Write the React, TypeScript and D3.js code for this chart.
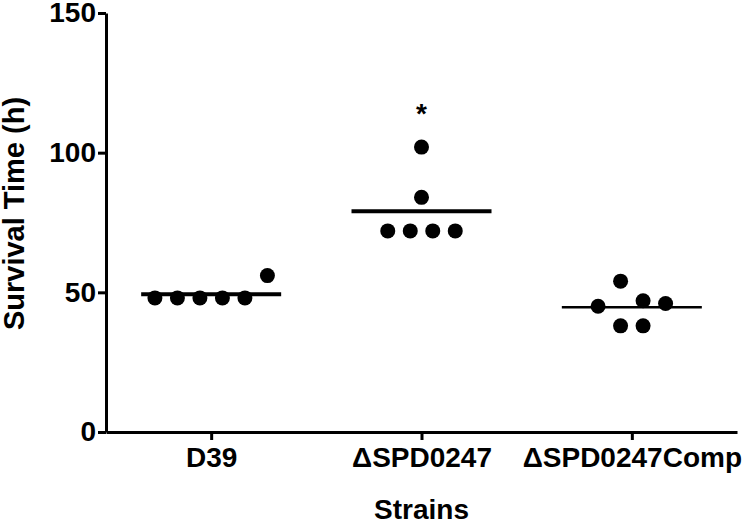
import React from "react";
import * as d3 from "d3";

// strains on the x axis
const strains = ["D39", "ΔSPD0247", "ΔSPD0247Comp"];

// survival times (h) per strain, with the column slot each dot sits in
const d39Values = [48, 48, 48, 48, 48, 56];
const d39Slots = [-2.5, -1.5, -0.5, 0.5, 1.5, 2.5];
const mutValues = [72, 72, 72, 72, 84, 102];
const mutSlots = [-1.5, -0.5, 0.5, 1.5, 0, 0];
const compValues = [45, 54, 47, 46, 38, 38];
const compSlots = [-1.5, -0.5, 0.5, 1.5, -0.5, 0.5];

const yTicks = [0, 50, 100, 150];
const significant = [false, true, false];

const App = () => {
  const svgRef = React.useRef(null);
  const width = 750;
  const height = 525;
  const margin = { top: 13, right: 13, bottom: 93, left: 106 };

  React.useEffect(() => {
    drawChart();
  }, []);

  const drawChart = () => {
    const font = "'Liberation Sans', Arial, sans-serif";
    const groups = [
      { name: strains[0], values: d39Values, slots: d39Slots, lineW: 4 },
      { name: strains[1], values: mutValues, slots: mutSlots, lineW: 4 },
      { name: strains[2], values: compValues, slots: compSlots, lineW: 2.5 },
    ];

    const x = d3
      .scalePoint()
      .domain(strains)
      .range([margin.left, width - margin.right])
      .padding(0.5);
    const y = d3
      .scaleLinear()
      .domain([0, 150])
      .range([height - margin.bottom, margin.top]);
    const slotW = 22.5;

    const svg = d3.select(svgRef.current);
    svg.selectAll("*").remove();

    const styleText = (sel) =>
      sel
        .attr("font-size", 28)
        .attr("font-weight", "bold")
        .attr("font-family", font)
        .attr("fill", "#000");

    const xAxis = (g) =>
      g
        .attr("transform", `translate(0,${height - margin.bottom})`)
        .call(d3.axisBottom(x).tickSize(8).tickSizeOuter(0).tickPadding(7))
        .call((g) => g.select(".domain").attr("stroke-width", 3))
        .call((g) => g.selectAll(".tick line").attr("stroke-width", 3))
        .call((g) => styleText(g.selectAll(".tick text")));
    const yAxis = (g) =>
      g
        .attr("transform", `translate(${margin.left},0)`)
        .call(d3.axisLeft(y).tickValues(yTicks).tickSize(8).tickSizeOuter(0).tickPadding(2))
        .call((g) => g.select(".domain").attr("stroke-width", 3))
        .call((g) => g.selectAll(".tick line").attr("stroke-width", 3))
        .call((g) => styleText(g.selectAll(".tick text")));

    svg.append("g").call(xAxis);
    svg.append("g").call(yAxis);

    // dots
    groups.forEach((grp) => {
      svg
        .append("g")
        .selectAll("circle")
        .data(grp.values)
        .join("circle")
        .attr("cx", (d, i) => x(grp.name) + grp.slots[i] * slotW)
        .attr("cy", (d) => y(d))
        .attr("r", 7.5)
        .attr("fill", "#000");
    });

    // mean lines
    svg
      .append("g")
      .selectAll("line")
      .data(groups)
      .join("line")
      .attr("x1", (d) => x(d.name) - 70)
      .attr("x2", (d) => x(d.name) + 70)
      .attr("y1", (d) => y(d3.mean(d.values)))
      .attr("y2", (d) => y(d3.mean(d.values)))
      .attr("stroke", "#000")
      .attr("stroke-width", (d) => d.lineW);

    // significance marks
    svg
      .append("g")
      .selectAll("text")
      .data(groups.filter((d, i) => significant[i]))
      .join("text")
      .attr("x", (d) => x(d.name))
      .attr("y", (d) => y(d3.max(d.values)) - 24)
      .attr("text-anchor", "middle")
      .call(styleText)
      .text("*");

    // axis titles
    svg
      .append("text")
      .attr("x", x(strains[1]))
      .attr("y", 519)
      .attr("text-anchor", "middle")
      .call(styleText)
      .text("Strains");

    svg
      .append("text")
      .attr("transform", `translate(24,${(margin.top + height - margin.bottom) / 2 - 9}) rotate(-90)`)
      .attr("text-anchor", "middle")
      .call(styleText)
      .attr("font-size", 29)
      .text("Survival Time (h)");
  };

  return (
    <svg
      ref={svgRef}
      width={width}
      height={height}
      style={{ position: "absolute", left: 0, top: 0, background: "#fff" }}
    />
  );
};
export default App;
